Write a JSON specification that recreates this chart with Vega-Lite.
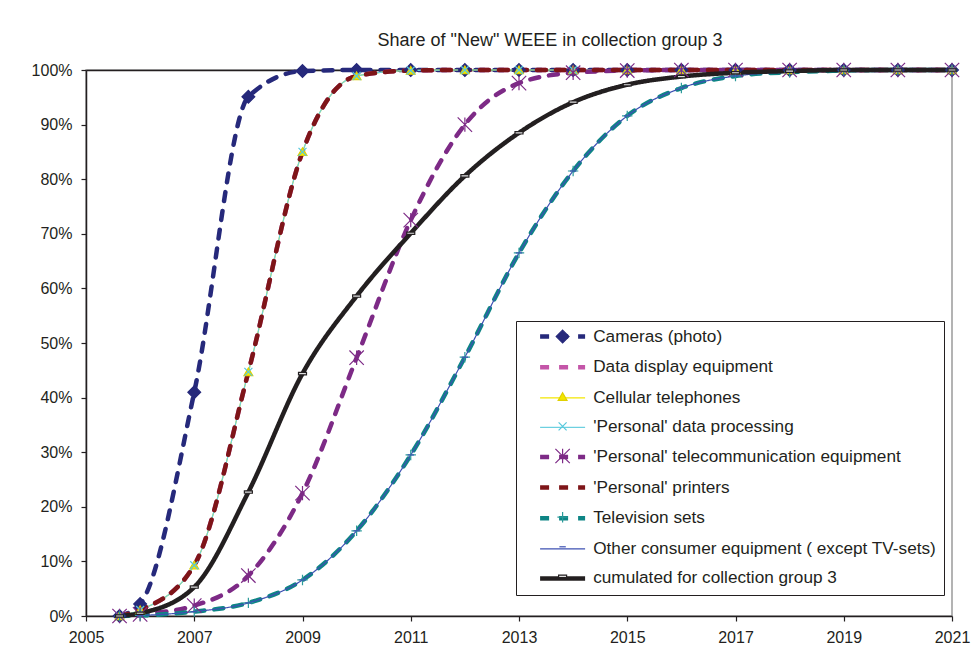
{
  "$schema": "https://vega.github.io/schema/vega-lite/v6.json",
  "width": 866,
  "height": 546,
  "autosize": {"type": "none"},
  "padding": {"left": 86, "top": 70, "right": 24, "bottom": 51},
  "background": "white",
  "title": {"text": "Share of \"New\" WEEE in collection group 3", "anchor": "middle", "frame": "group", "offset": -4, "baseline": "alphabetic", "dx": 31, "fontSize": 18, "fontWeight": "normal", "font": "Liberation Sans", "color": "#231F20"},
  "config": {
    "view": {"stroke": "#9a9a9a", "strokeWidth": 1.5},
    "font": "Liberation Sans",
    "axis": {"labelFont": "Liberation Sans", "labelFontSize": 16, "labelColor": "#231F20", "domainColor": "#231F20", "tickColor": "#231F20", "grid": false, "tickSize": 5, "domainWidth": 1.5, "tickWidth": 1.2},
    "legend": {"labelFont": "Liberation Sans", "labelFontSize": 17.2, "labelColor": "#231F20", "labelLimit": 600, "rowPadding": 11.6, "padding": 7, "symbolOffset": 31, "labelOffset": 22}
  },
  "data": {"values": [
    {"s":"Cameras (photo)","k":1,"x":2005.62,"v":0},{"s":"Cameras (photo)","k":1,"x":2006,"v":0.022},{"s":"Cameras (photo)","k":1,"x":2007,"v":0.41},{"s":"Cameras (photo)","k":1,"x":2008,"v":0.951},{"s":"Cameras (photo)","k":1,"x":2009,"v":0.998},{"s":"Cameras (photo)","k":1,"x":2010,"v":1},{"s":"Cameras (photo)","k":1,"x":2011,"v":1},{"s":"Cameras (photo)","k":1,"x":2012,"v":1},{"s":"Cameras (photo)","k":1,"x":2013,"v":1},{"s":"Cameras (photo)","k":1,"x":2014,"v":1},{"s":"Cameras (photo)","k":1,"x":2015,"v":1},{"s":"Cameras (photo)","k":1,"x":2016,"v":1},{"s":"Cameras (photo)","k":1,"x":2017,"v":1},{"s":"Cameras (photo)","k":1,"x":2018,"v":1},{"s":"Cameras (photo)","k":1,"x":2019,"v":1},{"s":"Cameras (photo)","k":1,"x":2020,"v":1},{"s":"Cameras (photo)","k":1,"x":2021,"v":1},
    {"s":"Data display equipment","k":2,"x":2005.62,"v":0},{"s":"Data display equipment","k":2,"x":2006,"v":0.011},{"s":"Data display equipment","k":2,"x":2007,"v":0.093},{"s":"Data display equipment","k":2,"x":2008,"v":0.447},{"s":"Data display equipment","k":2,"x":2009,"v":0.85},{"s":"Data display equipment","k":2,"x":2010,"v":0.989},{"s":"Data display equipment","k":2,"x":2011,"v":0.999},{"s":"Data display equipment","k":2,"x":2012,"v":1},{"s":"Data display equipment","k":2,"x":2013,"v":1},{"s":"Data display equipment","k":2,"x":2014,"v":1},{"s":"Data display equipment","k":2,"x":2015,"v":1},{"s":"Data display equipment","k":2,"x":2016,"v":1},{"s":"Data display equipment","k":2,"x":2017,"v":1},{"s":"Data display equipment","k":2,"x":2018,"v":1},{"s":"Data display equipment","k":2,"x":2019,"v":1},{"s":"Data display equipment","k":2,"x":2020,"v":1},{"s":"Data display equipment","k":2,"x":2021,"v":1},
    {"s":"Cellular telephones","k":3,"x":2005.62,"v":0},{"s":"Cellular telephones","k":3,"x":2006,"v":0.011},{"s":"Cellular telephones","k":3,"x":2007,"v":0.093},{"s":"Cellular telephones","k":3,"x":2008,"v":0.447},{"s":"Cellular telephones","k":3,"x":2009,"v":0.85},{"s":"Cellular telephones","k":3,"x":2010,"v":0.989},{"s":"Cellular telephones","k":3,"x":2011,"v":0.999},{"s":"Cellular telephones","k":3,"x":2012,"v":1},{"s":"Cellular telephones","k":3,"x":2013,"v":1},{"s":"Cellular telephones","k":3,"x":2014,"v":1},{"s":"Cellular telephones","k":3,"x":2015,"v":1},{"s":"Cellular telephones","k":3,"x":2016,"v":1},{"s":"Cellular telephones","k":3,"x":2017,"v":1},{"s":"Cellular telephones","k":3,"x":2018,"v":1},{"s":"Cellular telephones","k":3,"x":2019,"v":1},{"s":"Cellular telephones","k":3,"x":2020,"v":1},{"s":"Cellular telephones","k":3,"x":2021,"v":1},
    {"s":"'Personal' data processing","k":4,"x":2005.62,"v":0},{"s":"'Personal' data processing","k":4,"x":2006,"v":0.011},{"s":"'Personal' data processing","k":4,"x":2007,"v":0.093},{"s":"'Personal' data processing","k":4,"x":2008,"v":0.447},{"s":"'Personal' data processing","k":4,"x":2009,"v":0.85},{"s":"'Personal' data processing","k":4,"x":2010,"v":0.989},{"s":"'Personal' data processing","k":4,"x":2011,"v":0.999},{"s":"'Personal' data processing","k":4,"x":2012,"v":1},{"s":"'Personal' data processing","k":4,"x":2013,"v":1},{"s":"'Personal' data processing","k":4,"x":2014,"v":1},{"s":"'Personal' data processing","k":4,"x":2015,"v":1},{"s":"'Personal' data processing","k":4,"x":2016,"v":1},{"s":"'Personal' data processing","k":4,"x":2017,"v":1},{"s":"'Personal' data processing","k":4,"x":2018,"v":1},{"s":"'Personal' data processing","k":4,"x":2019,"v":1},{"s":"'Personal' data processing","k":4,"x":2020,"v":1},{"s":"'Personal' data processing","k":4,"x":2021,"v":1},
    {"s":"'Personal' telecommunication equipment","k":5,"x":2005.62,"v":0},{"s":"'Personal' telecommunication equipment","k":5,"x":2006,"v":0.003},{"s":"'Personal' telecommunication equipment","k":5,"x":2007,"v":0.019},{"s":"'Personal' telecommunication equipment","k":5,"x":2008,"v":0.074},{"s":"'Personal' telecommunication equipment","k":5,"x":2009,"v":0.225},{"s":"'Personal' telecommunication equipment","k":5,"x":2010,"v":0.473},{"s":"'Personal' telecommunication equipment","k":5,"x":2011,"v":0.725},{"s":"'Personal' telecommunication equipment","k":5,"x":2012,"v":0.9},{"s":"'Personal' telecommunication equipment","k":5,"x":2013,"v":0.976},{"s":"'Personal' telecommunication equipment","k":5,"x":2014,"v":0.995},{"s":"'Personal' telecommunication equipment","k":5,"x":2015,"v":0.999},{"s":"'Personal' telecommunication equipment","k":5,"x":2016,"v":1},{"s":"'Personal' telecommunication equipment","k":5,"x":2017,"v":1},{"s":"'Personal' telecommunication equipment","k":5,"x":2018,"v":1},{"s":"'Personal' telecommunication equipment","k":5,"x":2019,"v":1},{"s":"'Personal' telecommunication equipment","k":5,"x":2020,"v":1},{"s":"'Personal' telecommunication equipment","k":5,"x":2021,"v":1},
    {"s":"'Personal' printers","k":6,"x":2005.62,"v":0},{"s":"'Personal' printers","k":6,"x":2006,"v":0.011},{"s":"'Personal' printers","k":6,"x":2007,"v":0.093},{"s":"'Personal' printers","k":6,"x":2008,"v":0.447},{"s":"'Personal' printers","k":6,"x":2009,"v":0.85},{"s":"'Personal' printers","k":6,"x":2010,"v":0.989},{"s":"'Personal' printers","k":6,"x":2011,"v":0.999},{"s":"'Personal' printers","k":6,"x":2012,"v":1},{"s":"'Personal' printers","k":6,"x":2013,"v":1},{"s":"'Personal' printers","k":6,"x":2014,"v":1},{"s":"'Personal' printers","k":6,"x":2015,"v":1},{"s":"'Personal' printers","k":6,"x":2016,"v":1},{"s":"'Personal' printers","k":6,"x":2017,"v":1},{"s":"'Personal' printers","k":6,"x":2018,"v":1},{"s":"'Personal' printers","k":6,"x":2019,"v":1},{"s":"'Personal' printers","k":6,"x":2020,"v":1},{"s":"'Personal' printers","k":6,"x":2021,"v":1},
    {"s":"Television sets","k":7,"x":2005.62,"v":0},{"s":"Television sets","k":7,"x":2006,"v":0.001},{"s":"Television sets","k":7,"x":2007,"v":0.008},{"s":"Television sets","k":7,"x":2008,"v":0.024},{"s":"Television sets","k":7,"x":2009,"v":0.066},{"s":"Television sets","k":7,"x":2010,"v":0.156},{"s":"Television sets","k":7,"x":2011,"v":0.295},{"s":"Television sets","k":7,"x":2012,"v":0.474},{"s":"Television sets","k":7,"x":2013,"v":0.665},{"s":"Television sets","k":7,"x":2014,"v":0.815},{"s":"Television sets","k":7,"x":2015,"v":0.916},{"s":"Television sets","k":7,"x":2016,"v":0.967},{"s":"Television sets","k":7,"x":2017,"v":0.989},{"s":"Television sets","k":7,"x":2018,"v":0.996},{"s":"Television sets","k":7,"x":2019,"v":0.999},{"s":"Television sets","k":7,"x":2020,"v":1},{"s":"Television sets","k":7,"x":2021,"v":1},
    {"s":"Other consumer equipment ( except TV-sets)","k":8,"x":2005.62,"v":0},{"s":"Other consumer equipment ( except TV-sets)","k":8,"x":2006,"v":0.001},{"s":"Other consumer equipment ( except TV-sets)","k":8,"x":2007,"v":0.008},{"s":"Other consumer equipment ( except TV-sets)","k":8,"x":2008,"v":0.024},{"s":"Other consumer equipment ( except TV-sets)","k":8,"x":2009,"v":0.066},{"s":"Other consumer equipment ( except TV-sets)","k":8,"x":2010,"v":0.156},{"s":"Other consumer equipment ( except TV-sets)","k":8,"x":2011,"v":0.295},{"s":"Other consumer equipment ( except TV-sets)","k":8,"x":2012,"v":0.474},{"s":"Other consumer equipment ( except TV-sets)","k":8,"x":2013,"v":0.665},{"s":"Other consumer equipment ( except TV-sets)","k":8,"x":2014,"v":0.815},{"s":"Other consumer equipment ( except TV-sets)","k":8,"x":2015,"v":0.916},{"s":"Other consumer equipment ( except TV-sets)","k":8,"x":2016,"v":0.967},{"s":"Other consumer equipment ( except TV-sets)","k":8,"x":2017,"v":0.989},{"s":"Other consumer equipment ( except TV-sets)","k":8,"x":2018,"v":0.996},{"s":"Other consumer equipment ( except TV-sets)","k":8,"x":2019,"v":0.999},{"s":"Other consumer equipment ( except TV-sets)","k":8,"x":2020,"v":1},{"s":"Other consumer equipment ( except TV-sets)","k":8,"x":2021,"v":1},
    {"s":"cumulated for collection group 3","k":9,"x":2005.62,"v":0},{"s":"cumulated for collection group 3","k":9,"x":2006,"v":0.005},{"s":"cumulated for collection group 3","k":9,"x":2007,"v":0.053},{"s":"cumulated for collection group 3","k":9,"x":2008,"v":0.227},{"s":"cumulated for collection group 3","k":9,"x":2009,"v":0.444},{"s":"cumulated for collection group 3","k":9,"x":2010,"v":0.586},{"s":"cumulated for collection group 3","k":9,"x":2011,"v":0.701},{"s":"cumulated for collection group 3","k":9,"x":2012,"v":0.806},{"s":"cumulated for collection group 3","k":9,"x":2013,"v":0.885},{"s":"cumulated for collection group 3","k":9,"x":2014,"v":0.941},{"s":"cumulated for collection group 3","k":9,"x":2015,"v":0.973},{"s":"cumulated for collection group 3","k":9,"x":2016,"v":0.988},{"s":"cumulated for collection group 3","k":9,"x":2017,"v":0.995},{"s":"cumulated for collection group 3","k":9,"x":2018,"v":0.998},{"s":"cumulated for collection group 3","k":9,"x":2019,"v":1},{"s":"cumulated for collection group 3","k":9,"x":2020,"v":1},{"s":"cumulated for collection group 3","k":9,"x":2021,"v":1}
  ]},
  "resolve": {"axis": {"x": "independent"}},
  "layer": [
    {
      "mark": {"type": "line", "interpolate": "monotone", "strokeCap": "round"},
      "encoding": {
        "x": {"field": "x", "type": "quantitative", "title": null, "scale": {"domain": [2005, 2021], "nice": false, "zero": false}, "axis": {"orient": "bottom", "values": [2005, 2007, 2009, 2011, 2013, 2015, 2017, 2019, 2021], "format": "d", "labelPadding": 8, "labelFlush": false}},
        "y": {"field": "v", "type": "quantitative", "title": null, "scale": {"domain": [0, 1], "nice": false}, "axis": {"values": [0, 0.1, 0.2, 0.3, 0.4, 0.5, 0.6, 0.7, 0.8, 0.9, 1], "format": ".0%", "labelPadding": 9}},
        "color": {"field": "s", "type": "nominal", "scale": {"domain": ["Cameras (photo)", "Data display equipment", "Cellular telephones", "'Personal' data processing", "'Personal' telecommunication equipment", "'Personal' printers", "Television sets", "Other consumer equipment ( except TV-sets)", "cumulated for collection group 3"], "range": ["#26297B", "#C455A8", "#F3E600", "#6DD0E0", "#7D2A86", "#7E1518", "#0E8585", "#3D50B2", "#231F20"]}, "legend": {"orient": "none", "legendX": 430, "legendY": 251, "title": null, "strokeColor": "#231F20", "symbolType": "M-4.5,0H4.5", "symbolSize": 100}},
        "strokeDash": {"field": "s", "type": "nominal", "scale": {"domain": ["Cameras (photo)", "Data display equipment", "Cellular telephones", "'Personal' data processing", "'Personal' telecommunication equipment", "'Personal' printers", "Television sets", "Other consumer equipment ( except TV-sets)", "cumulated for collection group 3"], "range": [[9, 10], [9, 10], [1, 0], [1, 0], [9, 10], [9, 10], [9, 10], [1, 0], [1, 0]]}, "legend": {"orient": "none", "legendX": 430, "legendY": 251, "title": null, "strokeColor": "#231F20", "symbolType": "M-4.5,0H4.5", "symbolSize": 100}},
        "strokeWidth": {"field": "s", "type": "nominal", "scale": {"type": "ordinal", "domain": ["Cameras (photo)", "Data display equipment", "Cellular telephones", "'Personal' data processing", "'Personal' telecommunication equipment", "'Personal' printers", "Television sets", "Other consumer equipment ( except TV-sets)", "cumulated for collection group 3"], "range": [4.5, 4.5, 1.2, 1.2, 4.5, 4.5, 4.5, 1.2, 4.5]}, "legend": {"orient": "none", "legendX": 430, "legendY": 251, "title": null, "strokeColor": "#231F20", "symbolType": "M-4.5,0H4.5", "symbolSize": 100}}
      }
    },
    {
      "mark": {"type": "point", "size": 64, "strokeWidth": 1.2, "opacity": 1},
      "encoding": {
        "x": {"field": "x", "type": "quantitative", "title": null, "axis": {"orient": "top", "labels": false, "ticks": false, "domainColor": "#231F20", "domainWidth": 1.5}},
        "y": {"field": "v", "type": "quantitative", "title": null},
        "shape": {"field": "s", "type": "nominal", "sort": {"field": "k", "op": "min"}, "scale": {"range": ["M0,-1.6L1.6,0L0,1.6L-1.6,0Z", "M0,0", "M0,-1L1.1,0.9L-1.1,0.9Z", "M-1,-1L1,1M-1,1L1,-1", "M-1.8,-1.8L1.8,1.8M-1.8,1.8L1.8,-1.8M0,-1.8L0,1.8", "M0,0", "M-1.3,0H1.3M0,-1.3V1.3", "M-0.8,0H0.8", "M-1,-0.3H1V0.3H-1Z"]}, "legend": {"orient": "none", "legendX": 430, "legendY": 251, "title": null, "labelExpr": "''", "symbolSize": 64, "symbolStrokeWidth": 1.2, "symbolOpacity": 1}},
        "stroke": {"field": "s", "type": "nominal", "sort": {"field": "k", "op": "min"}, "scale": {"range": ["#26297B", "#C455A8", "#E0D000", "#56C8DC", "#7D2A86", "#7E1518", "#2A9A9A", "#3D50B2", "#231F20"]}, "legend": {"orient": "none", "legendX": 430, "legendY": 251, "title": null, "labelExpr": "''", "symbolSize": 64, "symbolStrokeWidth": 1.2, "symbolOpacity": 1}},
        "fill": {"field": "s", "type": "nominal", "sort": {"field": "k", "op": "min"}, "scale": {"range": ["#26297B", "transparent", "#F3E600", "transparent", "transparent", "transparent", "transparent", "transparent", "#E0E0E0"]}, "legend": {"orient": "none", "legendX": 430, "legendY": 251, "title": null, "labelExpr": "''", "symbolSize": 64, "symbolStrokeWidth": 1.2, "symbolOpacity": 1}}
      }
    }
  ]
}
